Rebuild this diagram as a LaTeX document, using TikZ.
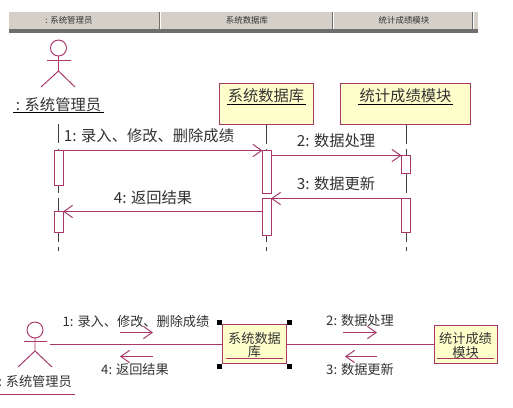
\documentclass[tikz,border=0pt]{standalone}
\usepackage{fontspec}
\setmainfont{Noto Sans CJK SC}
\usetikzlibrary{arrows.meta}

\definecolor{umlline}{HTML}{A8386A}
\definecolor{umlfill}{HTML}{FFFFCC}
\definecolor{barface}{HTML}{D4D0C8}
\definecolor{barshade}{HTML}{6E6E6E}
\definecolor{inktext}{HTML}{333333}

\begin{document}
\begin{tikzpicture}[
  x=0.02cm, y=-0.02cm,
  every node/.style={text=inktext, inner sep=0pt, outer sep=0pt},
  umlbox/.style={draw=umlline, fill=umlfill, line width=0.55pt},
  actbar/.style={draw=umlline, fill=white, line width=0.55pt, minimum width=8.5*0.02cm},
  lifeline/.style={draw=black!75, line width=0.5pt, dash pattern=on 11pt off 3pt},
  msg/.style={draw=umlline, line width=0.55pt, -{Straight Barb[length=5pt,width=7pt]}},
  actorline/.style={draw=umlline, line width=0.55pt},
  linkline/.style={draw=umlline, line width=0.55pt},
  seqlabel/.style={font=\fontsize{8.7}{10}\selectfont},
  colabel/.style={font=\fontsize{7.5}{9}\selectfont},
  headlabel/.style={font=\fontsize{4.8}{6}\selectfont},
  handle/.style={fill=black, minimum size=5*0.02cm},
]
\useasboundingbox (0,0) rectangle (513,407);
\fill[white] (0,0) rectangle (513,407);

%% -- Header bar
\fill[barface] (9,12) rectangle (478,29);
\fill[barshade] (9,29) rectangle (478,33);
\foreach \x in {160,333,473}{
  \fill[barshade] (\x-0.6,12) rectangle (\x+0.4,29);
  \fill[white] (\x+0.4,12) rectangle (\x+1.2,29);
}
\node[headlabel] (headA) at (69,20.5) {: 系统管理员};
\node[headlabel] (headB) at (247,20.5) {系统数据库};
\node[headlabel] (headC) at (404,20.5) {统计成绩模块};

%% -- Sequence diagram: participants
\node[umlbox, minimum width=94*0.02cm, minimum height=41*0.02cm] (dbBox) at (266.5,104) {};
\node[umlbox, minimum width=130*0.02cm, minimum height=41*0.02cm] (modBox) at (405.5,104) {};
\node[seqlabel] (dbName) at (266,96) {系统数据库};
\node[seqlabel] (modName) at (405.5,96) {统计成绩模块};
\draw[black, line width=0.5pt] (227,104.5) -- (306,104.5);
\draw[black, line width=0.5pt] (358,104.5) -- (453,104.5);

% actor
\draw[actorline] (58.5,48) circle (8);
\draw[actorline] (58.5,56) -- (58.5,71) (47,60.5) -- (71,60.5)
  (41,87) -- (58.5,71) -- (75,87);
\node[seqlabel] (adminName) at (58.5,105) {: 系统管理员};
\draw[black, line width=0.5pt] (13,112.5) -- (104,112.5);

%% -- Lifelines
\coordinate (adminTop) at (58.5,124);
\coordinate (adminEnd) at (58.5,251);
\coordinate (dbEnd) at (266.5,251);
\coordinate (modEnd) at (406.5,251);
\draw[lifeline] (adminTop) -- (adminEnd);
\draw[lifeline] (dbBox.south) -- (dbEnd);
\draw[lifeline] (406.5,124.5) -- (modEnd);

%% -- Activation bars
\node[actbar, minimum height=35*0.02cm] (actA1) at (58.75,168) {};
\node[actbar, minimum height=21*0.02cm] (actA2) at (58.75,222) {};
\node[actbar, minimum height=43*0.02cm] (actB1) at (266.75,172) {};
\node[actbar, minimum height=37*0.02cm] (actB2) at (266.75,217) {};
\node[actbar, minimum height=18*0.02cm] (actC1) at (405.75,164.5) {};
\node[actbar, minimum height=34*0.02cm] (actC2) at (405.75,215.5) {};

%% -- Messages
\draw[msg] (actA1.north east) -- (actB1.north west);
\draw[msg] (actB1.east |- actC1.north) -- (actC1.north west);
\draw[msg] (actC2.north west) -- (actB2.north east);
\draw[msg] (actB2.west |- actA2.north) -- (actA2.north east);

\node[seqlabel] (msgOne) at (149,136) {1: 录入、修改、删除成绩};
\node[seqlabel] (msgTwo) at (336,141) {2: 数据处理};
\node[seqlabel] (msgThree) at (336,184) {3: 数据更新};
\node[seqlabel] (msgFour) at (153,198) {4: 返回结果};

%% -- Collaboration diagram
\node[umlbox, minimum width=64*0.02cm, minimum height=39*0.02cm] (dbCo) at (254.5,344) {};
\node[umlbox, minimum width=63*0.02cm, minimum height=38*0.02cm] (modCo) at (466,344.5) {};
\node[colabel] (dbCoA) at (254.5,338) {系统数据};
\node[colabel] (dbCoB) at (254.5,352) {库};
\node[colabel] (modCoA) at (465.5,338) {统计成绩};
\node[colabel] (modCoB) at (465.5,352) {模块};
\draw[umlline, line width=0.55pt] (226,358.5) -- (283,358.5);
\draw[umlline, line width=0.8pt] (437,358.5) -- (494,358.5);

\foreach \x/\y/\nm in {219/322/hA, 289/322/hB, 219/366/hC, 289/366/hD}{
  \node[handle] (\nm) at (\x,\y) {};
}

% actor
\draw[actorline] (35,330) circle (8);
\draw[actorline] (35,338) -- (35,351) (24,341.5) -- (47,341.5)
  (18,367) -- (35,351) -- (52,367);
\node[colabel] (adminCo) at (35,381) {: 系统管理员};
\draw[umlline, line width=0.55pt] (0,394.5) -- (75,394.5);

\coordinate (adminLink) at (50,344.5);
\draw[linkline] (adminLink) -- (adminLink -| dbCo.west);
\draw[linkline] (adminLink -| dbCo.east) -- (adminLink -| modCo.west);

% message arrows
\coordinate (fwdA) at (120,332.5);  \coordinate (fwdB) at (153,332.5);
\coordinate (backA) at (153,356.5); \coordinate (backB) at (120,356.5);
\coordinate (fwdC) at (343,332.5);  \coordinate (fwdD) at (377,332.5);
\coordinate (backC) at (377,356.5); \coordinate (backD) at (345,356.5);
\draw[msg] (fwdA) -- (fwdB);
\draw[msg] (backA) -- (backB);
\draw[msg] (fwdC) -- (fwdD);
\draw[msg] (backC) -- (backD);

\node[colabel] (coOne) at (136,321) {1: 录入、修改、删除成绩};
\node[colabel] (coFour) at (135,369) {4: 返回结果};
\node[colabel] (coTwo) at (360,320) {2: 数据处理};
\node[colabel] (coThree) at (360,369) {3: 数据更新};

\end{tikzpicture}
\end{document}
